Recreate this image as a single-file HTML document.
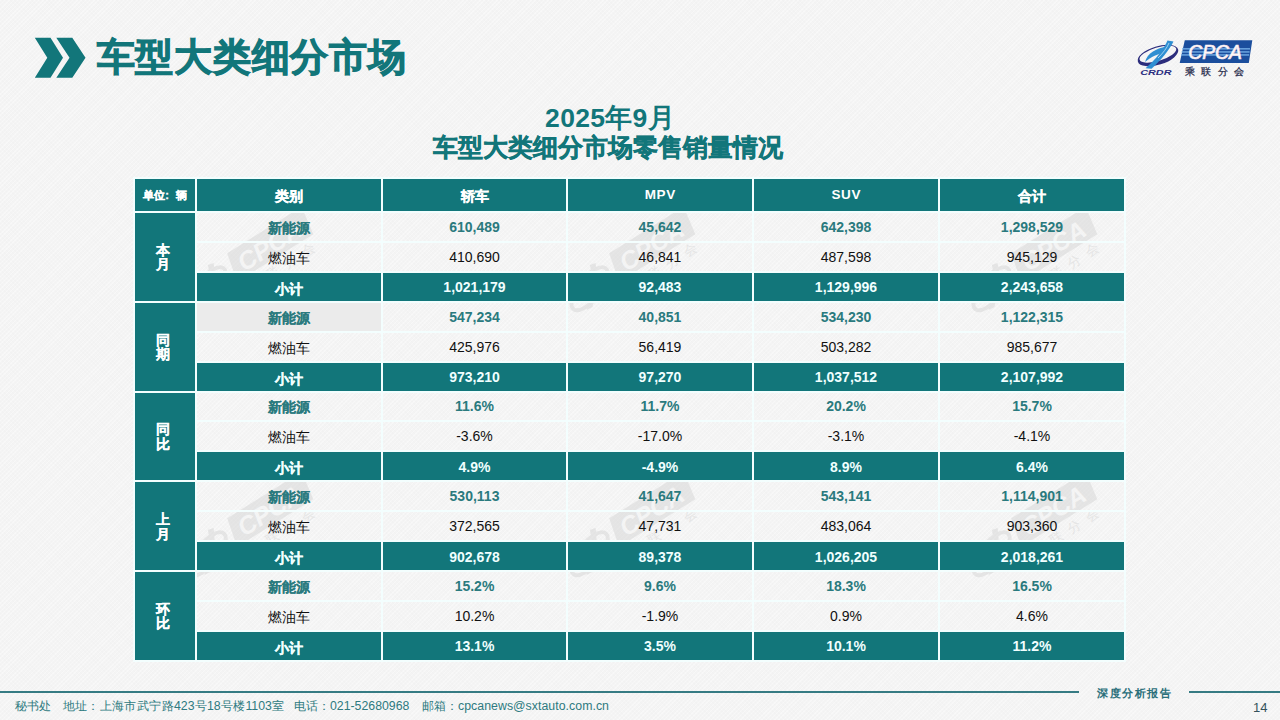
<!DOCTYPE html>
<html><head><meta charset="utf-8">
<style>
html,body{margin:0;padding:0;}
body{width:1280px;height:720px;position:relative;overflow:hidden;
 background-color:#f4f4f4;
 background-image:repeating-linear-gradient(45deg, rgba(0,0,0,0.008) 0 1px, transparent 1px 3px),repeating-linear-gradient(-45deg, rgba(255,255,255,0.35) 0 1px, transparent 1px 3px);
 font-family:"Liberation Sans", sans-serif;}
.abs{position:absolute;}
.title{position:absolute;left:96.5px;top:31px;font-size:38px;letter-spacing:0.8px;font-weight:bold;color:#12767a;white-space:nowrap;line-height:52px;-webkit-text-stroke:1px #12767a;}
.sub{position:absolute;left:0;width:1216px;text-align:center;font-weight:bold;color:#12767a;white-space:nowrap;}
.ln{position:absolute;background:#f3fefe;}
.c{position:absolute;display:flex;align-items:center;justify-content:center;font-size:14px;white-space:nowrap;}
.c span{position:relative;}
.h{background:#12767a;color:#fff;font-weight:bold;}
.h span{top:1.5px;}
.h .nm{top:-0.5px;font-size:13.5px;letter-spacing:0.7px;left:0.35px;}
.h .cj, .s .cj{-webkit-text-stroke:0.35px currentColor;}
.n .cj{-webkit-text-stroke:0.1px currentColor;}
.u .cj{-webkit-text-stroke:0.3px currentColor;}
.u span{top:0.5px;left:0px;}
.g .cj{-webkit-text-stroke:0.15px currentColor;}
.u{font-size:11px;}
.g{font-size:14px;line-height:14.5px;text-align:center;}
.g span{top:0.5px;left:-2.5px;}
.n{color:#2a7a7e;font-weight:bold;}
.n .cj{top:2px;} .n .nm{top:0px;}
.o{color:#111;}
.o .cj{top:2px;} .o .nm{top:0px;}
.dk{background:#ebebeb;}
.s{background:#12767a;color:#f0ffff;font-weight:bold;}
.s .cj{top:3px;} .s .nm{top:0.5px;}
.foot{position:absolute;top:697px;font-size:12.3px;letter-spacing:0.4px;line-height:18px;color:#2e7a80;white-space:nowrap;}
.foot i{font-style:normal;font-size:12.3px;letter-spacing:0;}
</style></head><body>
<svg class="abs" style="left:0;top:0" width="100" height="100" viewBox="0 0 100 100">
 <polygon fill="#12767a" points="34.8,37.8 50.5,37.8 63,57.8 50.5,77.7 34.8,77.7 47.3,57.8"/>
 <polygon fill="#12767a" points="56.3,37.8 72.3,37.8 85.5,57.8 72.3,77.7 56.3,77.7 69.5,57.8"/>
</svg>
<div class="title">车型大类细分市场</div>
<div class="sub" style="top:100.5px;left:2px;font-size:26.5px;line-height:34px;letter-spacing:0.3px">2025年9月</div>
<div class="sub" style="top:130.5px;font-size:24.8px;line-height:34px;-webkit-text-stroke:0.5px #12767a">车型大类细分市场零售销量情况</div>

<!-- logo -->
<svg class="abs" style="left:1130px;top:35px" width="130" height="50" viewBox="0 0 130 50">
 <polygon fill="#1b4e9d" points="54.8,5.3 122.3,5.3 118.8,27.9 49.7,27.9"/>
 <rect x="52" y="13.2" width="68" height="1.3" fill="#78b2ea"/>
 <rect x="51.6" y="16.3" width="68" height="1.3" fill="#78b2ea"/>
 <rect x="51.2" y="19.3" width="68" height="1.3" fill="#78b2ea"/>
 <text x="58.3" y="24.4" font-family="Liberation Sans" font-style="italic" font-size="19.3" fill="#fff" stroke="#fbe6ea" stroke-width="0.7">CPCA</text>
 <text x="54.6" y="39.6" font-family="Liberation Sans" font-size="10" fill="#1e2747" stroke="#1e2747" stroke-width="0.25" textLength="59.5" lengthAdjust="spacing">乘联分会</text>
 <path fill="#2c2d7c" fill-rule="evenodd" transform="rotate(-17 28 20.5)" d="M7 20.5 A21 9.2 0 1 0 49 20.5 A21 9.2 0 1 0 7 20.5 Z M9.2 19.2 A19.1 6.7 0 1 1 47.4 19.2 A19.1 6.7 0 1 1 9.2 19.2 Z"/>
 <path d="M37.5 5.5 C 34 14, 26 24, 15.5 33.2 L 21.5 33.8 C 31 25, 39 15.5, 43.5 6.5 Z" fill="#2f8fd2"/>
 <path d="M15 27 C 17 18.5, 27 12.5, 37 11.8 L 35.2 17.5 C 28 18.5, 21 22, 15 27 Z" fill="#2f8fd2"/>
 <path d="M39 8 C 37 13, 33 18, 28 23" stroke="#bfe3f7" stroke-width="0.8" fill="none"/>
 <text x="10.2" y="39.6" font-family="Liberation Sans" font-style="italic" font-weight="bold" font-size="7" fill="#2b2f80" textLength="31.4" lengthAdjust="spacingAndGlyphs">CRDR</text>
</svg>

<svg class="abs" style="left:0;top:0" width="1280" height="720" viewBox="0 0 1280 720">
 <defs>
  <g id="wm" opacity="0.5">
   <g transform="translate(-65,-25)">
    <polygon fill="#d6d6d6" points="54.8,5.3 122.3,5.3 118.8,27.9 49.7,27.9"/>
    <text x="58.3" y="24.4" font-family="Liberation Sans" font-style="italic" font-weight="bold" font-size="19.3" fill="#f4f4f4">CPCA</text>
    <text x="54.6" y="39.6" font-family="Liberation Sans" font-size="10" fill="#d6d6d6" textLength="59.5" lengthAdjust="spacing">乘联分会</text>
    <ellipse cx="27.6" cy="20.4" rx="20" ry="8.3" transform="rotate(-20 27.6 20.4)" fill="none" stroke="#d6d6d6" stroke-width="3"/>
    <path d="M37.5 5 C 35 13, 27 23, 17 33 L 22 33.5 C 31 24, 38.5 15, 42 6 Z" fill="#d6d6d6"/>
   </g>
  </g>
 </defs>
 <use href="#wm" transform="translate(252,268) rotate(-32) scale(1.3)"/>
 <use href="#wm" transform="translate(634,268) rotate(-32) scale(1.3)"/>
 <use href="#wm" transform="translate(1036,268) rotate(-32) scale(1.3)"/>
 <use href="#wm" transform="translate(252,533) rotate(-32) scale(1.3)"/>
 <use href="#wm" transform="translate(634,533) rotate(-32) scale(1.3)"/>
 <use href="#wm" transform="translate(1036,533) rotate(-32) scale(1.3)"/>
</svg>
<div class="ln" style="left:133px;top:177.00px;width:993.00px;height:2.00px"></div>
<div class="ln" style="left:133px;top:660.00px;width:993.00px;height:2.00px"></div>
<div class="ln" style="left:133px;top:177.00px;width:2.00px;height:485.00px"></div>
<div class="ln" style="left:1124px;top:177.00px;width:2.00px;height:485.00px"></div>
<div class="ln" style="left:195px;top:177.00px;width:2.00px;height:485.00px"></div>
<div class="ln" style="left:380.5px;top:177.00px;width:2.50px;height:485.00px"></div>
<div class="ln" style="left:566px;top:177.00px;width:2.00px;height:485.00px"></div>
<div class="ln" style="left:752px;top:177.00px;width:2.00px;height:485.00px"></div>
<div class="ln" style="left:938px;top:177.00px;width:2.00px;height:485.00px"></div>
<div class="ln" style="left:133px;top:211.00px;width:993.00px;height:2.00px"></div>
<div class="ln" style="left:197px;top:240.92px;width:929.00px;height:2.00px"></div>
<div class="ln" style="left:197px;top:270.84px;width:929.00px;height:2.00px"></div>
<div class="ln" style="left:133px;top:300.76px;width:993.00px;height:2.00px"></div>
<div class="ln" style="left:197px;top:330.68px;width:929.00px;height:2.00px"></div>
<div class="ln" style="left:197px;top:360.60px;width:929.00px;height:2.00px"></div>
<div class="ln" style="left:133px;top:390.52px;width:993.00px;height:2.00px"></div>
<div class="ln" style="left:197px;top:420.44px;width:929.00px;height:2.00px"></div>
<div class="ln" style="left:197px;top:450.36px;width:929.00px;height:2.00px"></div>
<div class="ln" style="left:133px;top:480.28px;width:993.00px;height:2.00px"></div>
<div class="ln" style="left:197px;top:510.20px;width:929.00px;height:2.00px"></div>
<div class="ln" style="left:197px;top:540.12px;width:929.00px;height:2.00px"></div>
<div class="ln" style="left:133px;top:570.04px;width:993.00px;height:2.00px"></div>
<div class="ln" style="left:197px;top:599.96px;width:929.00px;height:2.00px"></div>
<div class="ln" style="left:197px;top:629.88px;width:929.00px;height:2.00px"></div>
<div class="c h u" style="left:135px;top:179.00px;width:60.00px;height:32.00px"><span class='cj'>单位:<b style="display:inline-block;width:7px"></b>辆</span></div>
<div class="c h" style="left:197px;top:179.00px;width:183.50px;height:32.00px"><span class='cj'>类别</span></div>
<div class="c h" style="left:383px;top:179.00px;width:183.00px;height:32.00px"><span class='cj'>轿车</span></div>
<div class="c h" style="left:568px;top:179.00px;width:184.00px;height:32.00px"><span class='nm'>MPV</span></div>
<div class="c h" style="left:754px;top:179.00px;width:184.00px;height:32.00px"><span class='nm'>SUV</span></div>
<div class="c h" style="left:940px;top:179.00px;width:184.00px;height:32.00px"><span class='cj'>合计</span></div>
<div class="c h g" style="left:135px;top:213.00px;width:60.00px;height:87.76px"><span class='cj'>本<br>月</span></div>
<div class="c n" style="left:197px;top:213.00px;width:183.50px;height:27.92px"><span class='cj'>新能源</span></div>
<div class="c n" style="left:383px;top:213.00px;width:183.00px;height:27.92px"><span class='nm'>610,489</span></div>
<div class="c n" style="left:568px;top:213.00px;width:184.00px;height:27.92px"><span class='nm'>45,642</span></div>
<div class="c n" style="left:754px;top:213.00px;width:184.00px;height:27.92px"><span class='nm'>642,398</span></div>
<div class="c n" style="left:940px;top:213.00px;width:184.00px;height:27.92px"><span class='nm'>1,298,529</span></div>
<div class="c o" style="left:197px;top:242.92px;width:183.50px;height:27.92px"><span class='cj'>燃油车</span></div>
<div class="c o" style="left:383px;top:242.92px;width:183.00px;height:27.92px"><span class='nm'>410,690</span></div>
<div class="c o" style="left:568px;top:242.92px;width:184.00px;height:27.92px"><span class='nm'>46,841</span></div>
<div class="c o" style="left:754px;top:242.92px;width:184.00px;height:27.92px"><span class='nm'>487,598</span></div>
<div class="c o" style="left:940px;top:242.92px;width:184.00px;height:27.92px"><span class='nm'>945,129</span></div>
<div class="c s" style="left:197px;top:272.84px;width:183.50px;height:27.92px"><span class='cj'>小计</span></div>
<div class="c s" style="left:383px;top:272.84px;width:183.00px;height:27.92px"><span class='nm'>1,021,179</span></div>
<div class="c s" style="left:568px;top:272.84px;width:184.00px;height:27.92px"><span class='nm'>92,483</span></div>
<div class="c s" style="left:754px;top:272.84px;width:184.00px;height:27.92px"><span class='nm'>1,129,996</span></div>
<div class="c s" style="left:940px;top:272.84px;width:184.00px;height:27.92px"><span class='nm'>2,243,658</span></div>
<div class="c h g" style="left:135px;top:302.76px;width:60.00px;height:87.76px"><span class='cj'>同<br>期</span></div>
<div class="c n dk" style="left:197px;top:302.76px;width:183.50px;height:27.92px"><span class='cj'>新能源</span></div>
<div class="c n" style="left:383px;top:302.76px;width:183.00px;height:27.92px"><span class='nm'>547,234</span></div>
<div class="c n" style="left:568px;top:302.76px;width:184.00px;height:27.92px"><span class='nm'>40,851</span></div>
<div class="c n" style="left:754px;top:302.76px;width:184.00px;height:27.92px"><span class='nm'>534,230</span></div>
<div class="c n" style="left:940px;top:302.76px;width:184.00px;height:27.92px"><span class='nm'>1,122,315</span></div>
<div class="c o" style="left:197px;top:332.68px;width:183.50px;height:27.92px"><span class='cj'>燃油车</span></div>
<div class="c o" style="left:383px;top:332.68px;width:183.00px;height:27.92px"><span class='nm'>425,976</span></div>
<div class="c o" style="left:568px;top:332.68px;width:184.00px;height:27.92px"><span class='nm'>56,419</span></div>
<div class="c o" style="left:754px;top:332.68px;width:184.00px;height:27.92px"><span class='nm'>503,282</span></div>
<div class="c o" style="left:940px;top:332.68px;width:184.00px;height:27.92px"><span class='nm'>985,677</span></div>
<div class="c s" style="left:197px;top:362.60px;width:183.50px;height:27.92px"><span class='cj'>小计</span></div>
<div class="c s" style="left:383px;top:362.60px;width:183.00px;height:27.92px"><span class='nm'>973,210</span></div>
<div class="c s" style="left:568px;top:362.60px;width:184.00px;height:27.92px"><span class='nm'>97,270</span></div>
<div class="c s" style="left:754px;top:362.60px;width:184.00px;height:27.92px"><span class='nm'>1,037,512</span></div>
<div class="c s" style="left:940px;top:362.60px;width:184.00px;height:27.92px"><span class='nm'>2,107,992</span></div>
<div class="c h g" style="left:135px;top:392.52px;width:60.00px;height:87.76px"><span class='cj'>同<br>比</span></div>
<div class="c n" style="left:197px;top:392.52px;width:183.50px;height:27.92px"><span class='cj'>新能源</span></div>
<div class="c n" style="left:383px;top:392.52px;width:183.00px;height:27.92px"><span class='nm'>11.6%</span></div>
<div class="c n" style="left:568px;top:392.52px;width:184.00px;height:27.92px"><span class='nm'>11.7%</span></div>
<div class="c n" style="left:754px;top:392.52px;width:184.00px;height:27.92px"><span class='nm'>20.2%</span></div>
<div class="c n" style="left:940px;top:392.52px;width:184.00px;height:27.92px"><span class='nm'>15.7%</span></div>
<div class="c o" style="left:197px;top:422.44px;width:183.50px;height:27.92px"><span class='cj'>燃油车</span></div>
<div class="c o" style="left:383px;top:422.44px;width:183.00px;height:27.92px"><span class='nm'>-3.6%</span></div>
<div class="c o" style="left:568px;top:422.44px;width:184.00px;height:27.92px"><span class='nm'>-17.0%</span></div>
<div class="c o" style="left:754px;top:422.44px;width:184.00px;height:27.92px"><span class='nm'>-3.1%</span></div>
<div class="c o" style="left:940px;top:422.44px;width:184.00px;height:27.92px"><span class='nm'>-4.1%</span></div>
<div class="c s" style="left:197px;top:452.36px;width:183.50px;height:27.92px"><span class='cj'>小计</span></div>
<div class="c s" style="left:383px;top:452.36px;width:183.00px;height:27.92px"><span class='nm'>4.9%</span></div>
<div class="c s" style="left:568px;top:452.36px;width:184.00px;height:27.92px"><span class='nm'>-4.9%</span></div>
<div class="c s" style="left:754px;top:452.36px;width:184.00px;height:27.92px"><span class='nm'>8.9%</span></div>
<div class="c s" style="left:940px;top:452.36px;width:184.00px;height:27.92px"><span class='nm'>6.4%</span></div>
<div class="c h g" style="left:135px;top:482.28px;width:60.00px;height:87.76px"><span class='cj'>上<br>月</span></div>
<div class="c n" style="left:197px;top:482.28px;width:183.50px;height:27.92px"><span class='cj'>新能源</span></div>
<div class="c n" style="left:383px;top:482.28px;width:183.00px;height:27.92px"><span class='nm'>530,113</span></div>
<div class="c n" style="left:568px;top:482.28px;width:184.00px;height:27.92px"><span class='nm'>41,647</span></div>
<div class="c n" style="left:754px;top:482.28px;width:184.00px;height:27.92px"><span class='nm'>543,141</span></div>
<div class="c n" style="left:940px;top:482.28px;width:184.00px;height:27.92px"><span class='nm'>1,114,901</span></div>
<div class="c o" style="left:197px;top:512.20px;width:183.50px;height:27.92px"><span class='cj'>燃油车</span></div>
<div class="c o" style="left:383px;top:512.20px;width:183.00px;height:27.92px"><span class='nm'>372,565</span></div>
<div class="c o" style="left:568px;top:512.20px;width:184.00px;height:27.92px"><span class='nm'>47,731</span></div>
<div class="c o" style="left:754px;top:512.20px;width:184.00px;height:27.92px"><span class='nm'>483,064</span></div>
<div class="c o" style="left:940px;top:512.20px;width:184.00px;height:27.92px"><span class='nm'>903,360</span></div>
<div class="c s" style="left:197px;top:542.12px;width:183.50px;height:27.92px"><span class='cj'>小计</span></div>
<div class="c s" style="left:383px;top:542.12px;width:183.00px;height:27.92px"><span class='nm'>902,678</span></div>
<div class="c s" style="left:568px;top:542.12px;width:184.00px;height:27.92px"><span class='nm'>89,378</span></div>
<div class="c s" style="left:754px;top:542.12px;width:184.00px;height:27.92px"><span class='nm'>1,026,205</span></div>
<div class="c s" style="left:940px;top:542.12px;width:184.00px;height:27.92px"><span class='nm'>2,018,261</span></div>
<div class="c h g" style="left:135px;top:572.04px;width:60.00px;height:87.76px"><span class='cj'>环<br>比</span></div>
<div class="c n" style="left:197px;top:572.04px;width:183.50px;height:27.92px"><span class='cj'>新能源</span></div>
<div class="c n" style="left:383px;top:572.04px;width:183.00px;height:27.92px"><span class='nm'>15.2%</span></div>
<div class="c n" style="left:568px;top:572.04px;width:184.00px;height:27.92px"><span class='nm'>9.6%</span></div>
<div class="c n" style="left:754px;top:572.04px;width:184.00px;height:27.92px"><span class='nm'>18.3%</span></div>
<div class="c n" style="left:940px;top:572.04px;width:184.00px;height:27.92px"><span class='nm'>16.5%</span></div>
<div class="c o" style="left:197px;top:601.96px;width:183.50px;height:27.92px"><span class='cj'>燃油车</span></div>
<div class="c o" style="left:383px;top:601.96px;width:183.00px;height:27.92px"><span class='nm'>10.2%</span></div>
<div class="c o" style="left:568px;top:601.96px;width:184.00px;height:27.92px"><span class='nm'>-1.9%</span></div>
<div class="c o" style="left:754px;top:601.96px;width:184.00px;height:27.92px"><span class='nm'>0.9%</span></div>
<div class="c o" style="left:940px;top:601.96px;width:184.00px;height:27.92px"><span class='nm'>4.6%</span></div>
<div class="c s" style="left:197px;top:631.88px;width:183.50px;height:27.92px"><span class='cj'>小计</span></div>
<div class="c s" style="left:383px;top:631.88px;width:183.00px;height:27.92px"><span class='nm'>13.1%</span></div>
<div class="c s" style="left:568px;top:631.88px;width:184.00px;height:27.92px"><span class='nm'>3.5%</span></div>
<div class="c s" style="left:754px;top:631.88px;width:184.00px;height:27.92px"><span class='nm'>10.1%</span></div>
<div class="c s" style="left:940px;top:631.88px;width:184.00px;height:27.92px"><span class='nm'>11.2%</span></div>

<!-- footer -->
<div class="abs" style="left:0;top:691px;width:1079px;height:2px;background:#367b83"></div>
<div class="abs" style="left:1189px;top:691px;width:91px;height:2px;background:#367b83"></div>
<div class="abs" style="left:1097px;top:684.5px;font-family:'Liberation Serif',serif;font-weight:bold;font-size:11px;letter-spacing:1.6px;color:#2a6f7a;white-space:nowrap;line-height:16px">深度分析报告</div>
<div class="abs" style="left:1253px;top:699.5px;font-size:13px;color:#34525c;line-height:16px">14</div>
<div class="foot" style="left:14.5px">秘书处</div>
<div class="foot" style="left:62.5px">地址：上海市武宁路</div>
<div class="foot" style="left:174px"><i>423</i>号<i>18</i>号楼<i>1103</i>室</div>
<div class="foot" style="left:293.5px">电话：</div>
<div class="foot" style="left:330px"><i>021-52680968</i></div>
<div class="foot" style="left:421.5px">邮箱：</div>
<div class="foot" style="left:458px"><i style="letter-spacing:0.05px">cpcanews@sxtauto.com.cn</i></div>
</body></html>
